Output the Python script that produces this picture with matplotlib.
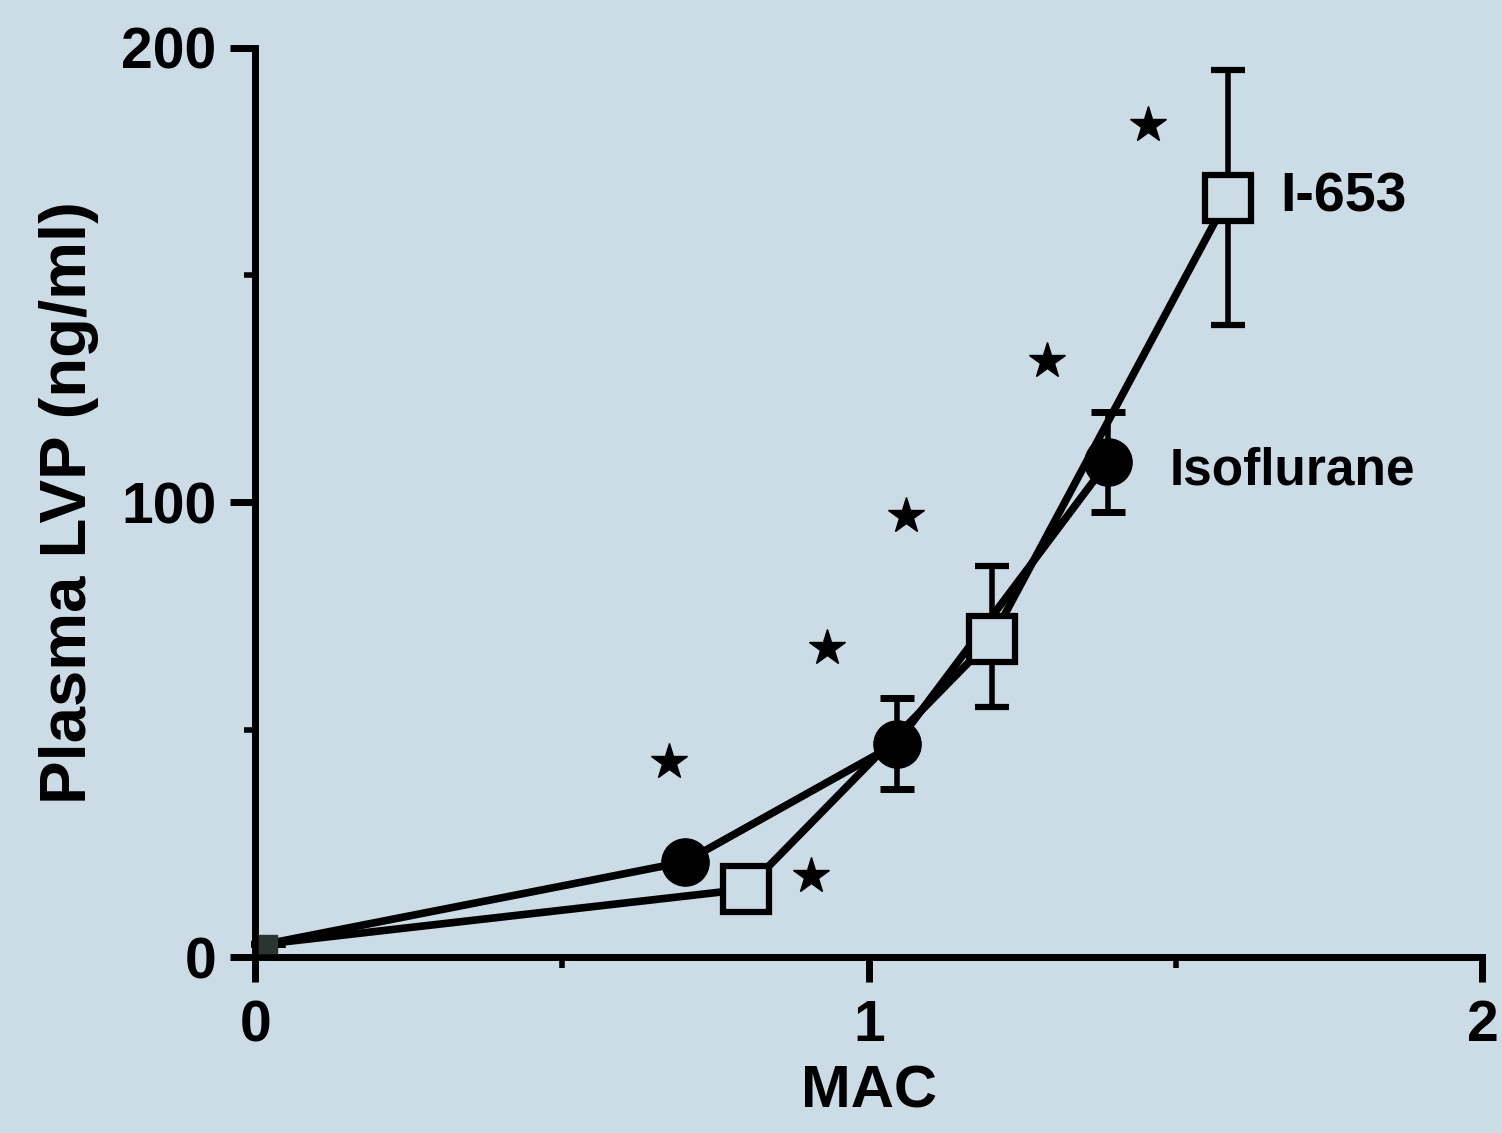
import numpy as np
import matplotlib.pyplot as plt

# Données
mac_iso = [0.02, 0.70, 1.045, 1.39]
lvp_iso = [3, 21, 47, 109]
err_iso_lo = [0, 0, 10, 11]
err_iso_hi = [0, 0, 10, 11]

mac_i653 = [0.02, 0.80, 1.20, 1.585]
lvp_i653 = [3, 15, 70, 167]
err_i653_lo = [0, 0, 15, 28]
err_i653_hi = [0, 0, 16, 28]

star_x = [0.675, 0.905, 0.932, 1.06, 1.29, 1.455]
star_y = [43, 18, 68, 97, 131, 183]

bg = '#cbdce6'
font = ['Liberation Sans', 'DejaVu Sans']

fig = plt.figure(figsize=(15.02, 11.33), dpi=100, facecolor=bg)
ax = fig.add_axes([0.170, 0.155, 0.817, 0.803], facecolor=bg)

# Isoflurane : cercles pleins (pas de gros symbole au point initial)
ax.errorbar(mac_iso, lvp_iso, yerr=[err_iso_lo, err_iso_hi], color='black',
            lw=5.5, marker='o', ms=34, mfc='black', mec='black',
            markevery=slice(1, None),
            elinewidth=4, capsize=12, capthick=5, clip_on=False, zorder=3)
# I-653 : carrés vides
ax.errorbar(mac_i653, lvp_i653, yerr=[err_i653_lo, err_i653_hi], color='black',
            lw=5.5, marker='s', ms=33, mfc=bg, mec='black', mew=4.5,
            markevery=slice(1, None),
            elinewidth=4, capsize=12, capthick=5, clip_on=False, zorder=4)
# petit symbole au point de départ
ax.plot(mac_i653[:1], lvp_i653[:1], linestyle='none', marker='s', ms=13,
        color='#2a3530', clip_on=False, zorder=5)
# étoiles de significativité
ax.plot(star_x, star_y, linestyle='none', marker='*', ms=27, color='black')

ax.text(1.67, 167, 'I-653', fontsize=40, fontweight='bold', family=font,
        va='center', ha='left')
ax.text(1.49, 107, 'Isoflurane', fontsize=37, fontweight='bold', family=font,
        va='center', ha='left')

ax.set_xlim(0, 2)
ax.set_ylim(0, 200)
for s in ['top', 'right']:
    ax.spines[s].set_visible(False)
for s in ['left', 'bottom']:
    ax.spines[s].set_linewidth(5)

ax.set_xticks([0, 1, 2])
ax.set_yticks([0, 100, 200])
ax.set_xticks([0.5, 1.5], minor=True)
ax.set_yticks([50, 150], minor=True)
ax.tick_params(which='major', length=18, width=5, labelsize=41)
ax.tick_params(axis='x', which='major', pad=12)
ax.tick_params(axis='y', which='major', pad=10)
ax.tick_params(which='minor', length=8, width=4)
for lab in ax.get_xticklabels() + ax.get_yticklabels():
    lab.set_fontweight('bold')
    lab.set_family(font)

ax.set_xlabel('MAC', fontsize=43, fontweight='bold', family=font, labelpad=8)
ax.set_ylabel('Plasma LVP (ng/ml)', fontsize=47, fontweight='bold',
              family=font, labelpad=16)

fig.savefig('out.png', dpi=100, facecolor=bg)
